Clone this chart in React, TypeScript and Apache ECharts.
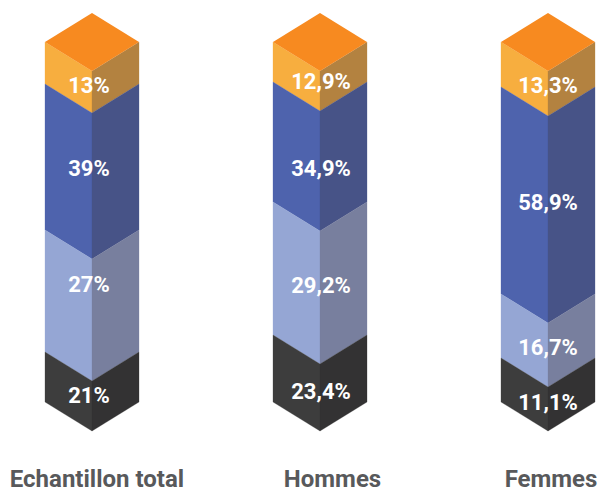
import React, { useEffect, useRef } from "react";
import * as echarts from "echarts";

const categories = ["Echantillon total", "Hommes", "Femmes"];
const segmentNames = ["Orange", "Bleu", "Bleu clair", "Noir"];
const labelsTotal = ["13%", "39%", "27%", "21%"];
const labelsHommes = ["12,9%", "34,9%", "29,2%", "23,4%"];
const labelsFemmes = ["13,3%", "58,9%", "16,7%", "11,1%"];
// Drawn heights of the segments (the source is not proportional to its labels)
const heightsTotal = [42, 146, 122, 50];
const heightsHommes = [40, 120, 133, 67];
const heightsFemmes = [45, 207, 64, 44];
// Label heights, measured down the same scale
const labelYTotal = [43, 126, 242, 353];
const labelYHommes = [39, 126, 243, 349];
const labelYFemmes = [43, 160, 305, 360];

const leftColors = ["#F7AE3F", "#4E63AD", "#95A6D4", "#3D3D3D"];
const rightColors = ["#B38240", "#475387", "#787F9E", "#333233"];
const capColor = "#F78A20";
const HALF_W = 47;
const DEPTH = 29;
const LABEL_DX = [-3, 1, 0];

const allHeights = [heightsTotal, heightsHommes, heightsFemmes];
const allLabels = [labelsTotal, labelsHommes, labelsFemmes];
const allLabelY = [labelYTotal, labelYHommes, labelYFemmes];

const segments: any[] = [];
const valueLabels: any[] = [];
allHeights.forEach((hs, c) => {
  let acc = 0;
  hs.forEach((h, s) => {
    segments.push([c, acc, acc + h, s]);
    valueLabels.push([c, allLabelY[c][s], allLabels[c][s]]);
    acc += h;
  });
});
const caps = categories.map((_, c) => [c, 0]);

export default function App() {
  const ref = useRef<HTMLDivElement>(null);
  useEffect(() => {
    const chart = echarts.init(ref.current!, null, { renderer: "svg" });
    chart.setOption({
      animation: false,
      backgroundColor: "#fff",
      grid: { left: 92, width: 456, top: 42, height: 360, outerBoundsMode: "none" },
      xAxis: {
        type: "category",
        boundaryGap: false,
        data: [
          { value: categories[0], textStyle: { padding: [0, 0, 0, 10] } },
          { value: categories[1], textStyle: { padding: [0, 0, 0, 25] } },
          { value: categories[2], textStyle: { padding: [0, 0, 0, 6] } },
        ],
        axisLine: { show: false },
        axisTick: { show: false },
        axisLabel: {
          show: true,
          interval: 0,
          margin: 66,
          fontFamily: "Roboto",
          fontWeight: "bold",
          fontSize: 24,
          lineHeight: 22,
          color: "#58595B",
        },
      },
      yAxis: { type: "value", min: 0, max: 360, inverse: true, show: false },
      series: [
        {
          type: "custom",
          name: "Segments",
          silent: true,
          encode: { x: 0, y: [1, 2] },
          data: segments,
          renderItem: (_p: any, api: any) => {
            const [cx, y0] = api.coord([api.value(0), api.value(1)]);
            const [, y1] = api.coord([api.value(0), api.value(2)]);
            const s = api.value(3);
            return {
              type: "group",
              children: [
                {
                  type: "polygon",
                  shape: { points: [[cx - HALF_W, y0], [cx, y0 + DEPTH], [cx, y1 + DEPTH], [cx - HALF_W, y1]] },
                  style: { fill: leftColors[s], stroke: leftColors[s], lineWidth: 0.3 },
                },
                {
                  type: "polygon",
                  shape: { points: [[cx + HALF_W, y0], [cx, y0 + DEPTH], [cx, y1 + DEPTH], [cx + HALF_W, y1]] },
                  style: { fill: rightColors[s], stroke: rightColors[s], lineWidth: 0.3 },
                },
              ],
            };
          },
        },
        {
          type: "custom",
          name: "Dessus",
          silent: true,
          z: 3,
          data: caps,
          renderItem: (_p: any, api: any) => {
            const [cx, y] = api.coord([api.value(0), api.value(1)]);
            return {
              type: "polygon",
              shape: { points: [[cx, y - DEPTH], [cx + HALF_W, y], [cx, y + DEPTH], [cx - HALF_W, y]] },
              style: { fill: capColor },
            };
          },
        },
        {
          type: "custom",
          name: "Valeurs",
          silent: true,
          z: 5,
          data: valueLabels,
          renderItem: (_p: any, api: any) => {
            const c = api.value(0);
            const [cx, y] = api.coord([c, api.value(1)]);
            return {
              type: "text",
              x: cx + LABEL_DX[c],
              y,
              style: {
                text: valueLabels[_p.dataIndex][2],
                fill: "#fff",
                fontFamily: "Roboto",
                fontWeight: "bold",
                fontSize: 22,
                align: "center",
                verticalAlign: "middle",
              },
            };
          },
        },
      ],
    });
    return () => chart.dispose();
  }, []);
  return (
    <div
      ref={ref}
      data-segments={segmentNames.join(",")}
      style={{ position: "absolute", left: 0, top: 0, width: 598, height: 489 }}
    />
  );
}
